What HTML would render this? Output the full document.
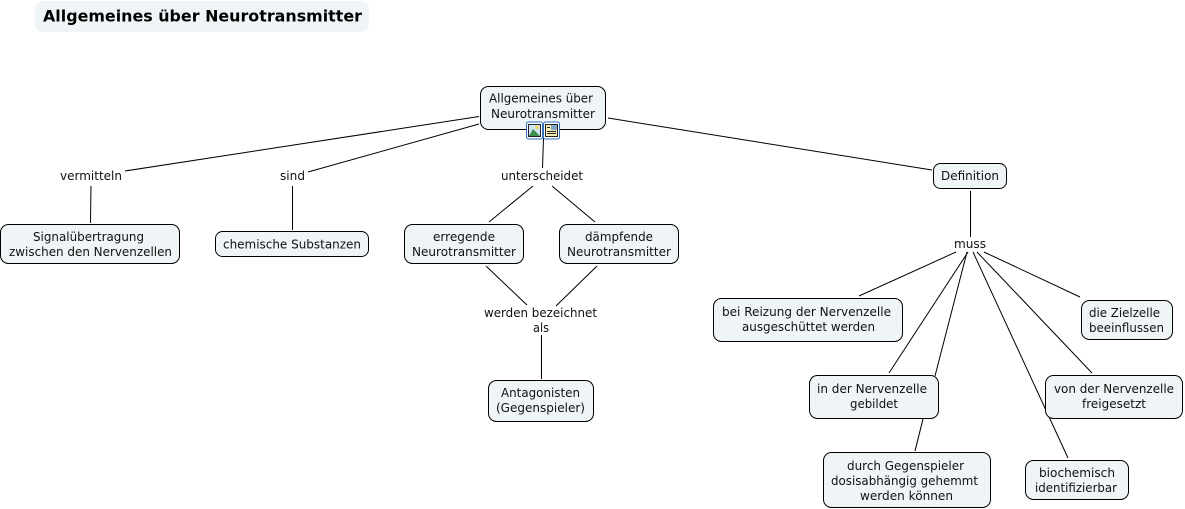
<!DOCTYPE html>
<html><head><meta charset="utf-8"><style>
html,body{margin:0;padding:0;background:#fff;width:1185px;height:509px;overflow:hidden}
svg{display:block}
text{font-family:"DejaVu Sans","Liberation Sans",sans-serif;font-size:12.8px;fill:#111}
.b{fill:#eff4f6;stroke:#000;stroke-width:1}
.l{stroke:#000;stroke-width:1;fill:none}
</style></head><body>
<svg width="1185" height="509" viewBox="0 0 1185 509" xmlns="http://www.w3.org/2000/svg">
<rect x="35" y="1" width="334" height="31" rx="8" fill="#eff5f7"/>
<text x="43" y="21.5" textLength="319" lengthAdjust="spacingAndGlyphs" style="font-size:16px;font-weight:bold;fill:#000">Allgemeines über Neurotransmitter</text>

<g class="l">
<line x1="479" y1="116.5" x2="125" y2="171"/>
<line x1="479" y1="124" x2="308" y2="172"/>
<line x1="543.5" y1="138" x2="542.5" y2="168"/>
<line x1="608" y1="118" x2="932" y2="170"/>
<line x1="91" y1="186" x2="90.5" y2="223"/>
<line x1="292.5" y1="186" x2="292.5" y2="230"/>
<line x1="533" y1="186" x2="489" y2="222"/>
<line x1="552" y1="186" x2="595" y2="222"/>
<line x1="970.5" y1="191" x2="970.5" y2="237"/>
<line x1="956" y1="252" x2="859" y2="296"/>
<line x1="968" y1="252" x2="889" y2="373"/>
<line x1="967" y1="252" x2="935" y2="376"/>
<line x1="973" y1="252" x2="1068" y2="458"/>
<line x1="977" y1="252" x2="1092" y2="373"/>
<line x1="984" y1="252" x2="1080" y2="297"/>
<line x1="923" y1="419" x2="915" y2="451"/>
<line x1="486" y1="266" x2="527" y2="305"/>
<line x1="597" y1="266" x2="556" y2="306"/>
<line x1="541.5" y1="335" x2="541.5" y2="379"/>
</g>

<rect class="b" x="480.5" y="86.5" width="125" height="43" rx="8"/>
<rect class="b" x="933.5" y="163.5" width="73" height="25" rx="7"/>
<rect class="b" x="0.5" y="224.5" width="179" height="39" rx="8"/>
<rect class="b" x="215.5" y="231.5" width="153" height="25" rx="7"/>
<rect class="b" x="404.5" y="224.5" width="119" height="39" rx="8"/>
<rect class="b" x="559.5" y="224.5" width="119" height="39" rx="8"/>
<rect class="b" x="488.5" y="380.5" width="105" height="41" rx="8"/>
<rect class="b" x="713.5" y="298.5" width="189" height="43" rx="8"/>
<rect class="b" x="1081.5" y="300.5" width="91" height="39" rx="8"/>
<rect class="b" x="809.5" y="375.5" width="129" height="43" rx="8"/>
<rect class="b" x="1045.5" y="375.5" width="137" height="43" rx="8"/>
<rect class="b" x="823.5" y="452.5" width="167" height="55" rx="8"/>
<rect class="b" x="1025.5" y="460.5" width="103" height="39" rx="8"/>

<!-- icons -->
<rect x="526.5" y="122" width="16" height="17" rx="2" fill="#fff" stroke="#2f6fc0" stroke-width="1"/>
<rect x="528.5" y="124.5" width="12" height="12" fill="#cfe6f5" stroke="#223" stroke-width="1"/>
<circle cx="537" cy="127.5" r="1.8" fill="#f2d64b"/>
<path d="M529 136l4-7 3 3 4 4z" fill="#3f8f4a"/>
<rect x="543.5" y="122" width="16" height="17" rx="2" fill="#fff" stroke="#2f6fc0" stroke-width="1"/>
<rect x="545.5" y="124.5" width="12" height="12" fill="#f6eeb0" stroke="#222" stroke-width="1"/>
<rect x="551" y="125" width="6" height="5" fill="#7fa7c9"/>
<path d="M547 127.5h3M547 131.5h9M547 133.5h9" stroke="#222" stroke-width="1"/>

<text x="489" y="102.5" textLength="104" lengthAdjust="spacingAndGlyphs">Allgemeines über</text>
<text x="491" y="118" textLength="104" lengthAdjust="spacingAndGlyphs">Neurotransmitter</text>
<text x="60" y="180" textLength="62" lengthAdjust="spacingAndGlyphs">vermitteln</text>
<text x="280" y="180" textLength="25" lengthAdjust="spacingAndGlyphs">sind</text>
<text x="501" y="180" textLength="82" lengthAdjust="spacingAndGlyphs">unterscheidet</text>
<text x="941" y="180" textLength="58" lengthAdjust="spacingAndGlyphs">Definition</text>
<text x="33" y="241" textLength="111" lengthAdjust="spacingAndGlyphs">Signalübertragung</text>
<text x="9" y="256" textLength="163" lengthAdjust="spacingAndGlyphs">zwischen den Nervenzellen</text>
<text x="223" y="248.5" textLength="138" lengthAdjust="spacingAndGlyphs">chemische Substanzen</text>
<text x="433" y="241" textLength="62" lengthAdjust="spacingAndGlyphs">erregende</text>
<text x="412" y="256" textLength="104" lengthAdjust="spacingAndGlyphs">Neurotransmitter</text>
<text x="585" y="241" textLength="68" lengthAdjust="spacingAndGlyphs">dämpfende</text>
<text x="567" y="256" textLength="104" lengthAdjust="spacingAndGlyphs">Neurotransmitter</text>
<text x="954" y="248" textLength="32" lengthAdjust="spacingAndGlyphs">muss</text>
<text x="484" y="317" textLength="113" lengthAdjust="spacingAndGlyphs">werden bezeichnet</text>
<text x="533" y="332" textLength="16" lengthAdjust="spacingAndGlyphs">als</text>
<text x="501" y="397" textLength="79" lengthAdjust="spacingAndGlyphs">Antagonisten</text>
<text x="496" y="412" textLength="89" lengthAdjust="spacingAndGlyphs">(Gegenspieler)</text>
<text x="722" y="316" textLength="169" lengthAdjust="spacingAndGlyphs">bei Reizung der Nervenzelle</text>
<text x="742" y="331" textLength="133" lengthAdjust="spacingAndGlyphs">ausgeschüttet werden</text>
<text x="1089" y="317" textLength="71" lengthAdjust="spacingAndGlyphs">die Zielzelle</text>
<text x="1089" y="332" textLength="75" lengthAdjust="spacingAndGlyphs">beeinflussen</text>
<text x="817" y="393" textLength="110" lengthAdjust="spacingAndGlyphs">in der Nervenzelle</text>
<text x="850" y="408" textLength="48" lengthAdjust="spacingAndGlyphs">gebildet</text>
<text x="1054" y="393" textLength="120" lengthAdjust="spacingAndGlyphs">von der Nervenzelle</text>
<text x="1082" y="408" textLength="64" lengthAdjust="spacingAndGlyphs">freigesetzt</text>
<text x="847" y="470" textLength="117" lengthAdjust="spacingAndGlyphs">durch Gegenspieler</text>
<text x="831" y="485" textLength="147" lengthAdjust="spacingAndGlyphs">dosisabhängig gehemmt</text>
<text x="860" y="500" textLength="93" lengthAdjust="spacingAndGlyphs">werden können</text>
<text x="1039" y="477" textLength="76" lengthAdjust="spacingAndGlyphs">biochemisch</text>
<text x="1035" y="492" textLength="82" lengthAdjust="spacingAndGlyphs">identifizierbar</text>
</svg>
</body></html>
